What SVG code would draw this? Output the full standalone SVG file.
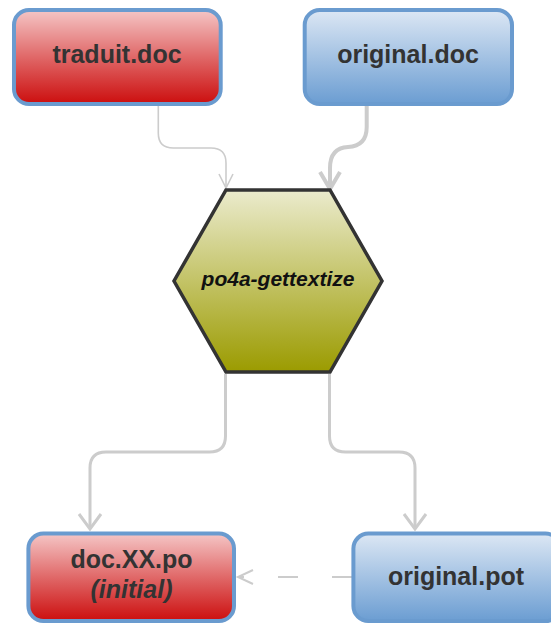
<svg xmlns="http://www.w3.org/2000/svg" width="551" height="624" viewBox="0 0 551 624">
  <defs>
    <linearGradient id="gRed" x1="0" y1="0" x2="0" y2="1">
      <stop offset="0" stop-color="#f5c6c6"/>
      <stop offset="0.5" stop-color="#e06868"/>
      <stop offset="1" stop-color="#cc0e0e"/>
    </linearGradient>
    <linearGradient id="gBlue" x1="0" y1="0" x2="0" y2="1">
      <stop offset="0" stop-color="#dce7f4"/>
      <stop offset="1" stop-color="#6b9dd2"/>
    </linearGradient>
    <linearGradient id="gOlive" x1="0" y1="0" x2="0" y2="1">
      <stop offset="0" stop-color="#ebebcd"/>
      <stop offset="1" stop-color="#9b9b00"/>
    </linearGradient>
    <marker id="headThin" markerUnits="userSpaceOnUse" markerWidth="30" markerHeight="30" viewBox="-20 -15 30 30" refX="0" refY="0" orient="auto" overflow="visible">
      <path d="M-14,-7 L0,0 L-14,7" fill="none" stroke="#cccccc" stroke-width="1.6"/>
    </marker>
    <marker id="headThick" markerUnits="userSpaceOnUse" markerWidth="30" markerHeight="30" viewBox="-20 -15 30 30" refX="0" refY="0" orient="auto" overflow="visible">
      <path d="M-17,-10 L0,0 L-17,10" fill="none" stroke="#cccccc" stroke-width="4"/>
    </marker>
    <marker id="headMid" markerUnits="userSpaceOnUse" markerWidth="30" markerHeight="30" viewBox="-20 -15 30 30" refX="0" refY="0" orient="auto" overflow="visible">
      <path d="M-15,-11 L0,0 L-15,11" fill="none" stroke="#cccccc" stroke-width="3"/>
    </marker>
    <marker id="headDash" markerUnits="userSpaceOnUse" markerWidth="30" markerHeight="30" viewBox="-20 -15 30 30" refX="0" refY="0" orient="auto" overflow="visible">
      <path d="M-15,-7 L0,0 L-15,7" fill="none" stroke="#cccccc" stroke-width="2"/>
    </marker>
  </defs>
  <style>
    .box { stroke: #6a9bcf; stroke-width: 4; }
    .red { fill: url(#gRed); }
    .blue { fill: url(#gBlue); }
    .label { font-family: "Liberation Sans", Arial, sans-serif; font-weight: bold; font-size: 25px; fill: #333333; text-anchor: middle; }
    .it { font-style: italic; }
    .conn { fill: none; stroke: #cccccc; stroke-linecap: butt; }
  </style>

  <!-- connectors -->
  <g id="connectors">
    <path class="conn" d="M158.3,104 V133 Q158.3,148 173.3,148 H211 Q226,148 226,163 V188" stroke-width="1.6" marker-end="url(#headThin)"/>
    <path class="conn" d="M366.7,104 V127 Q366.7,146 348,147 Q330,148 330,168 V189" stroke-width="4" marker-end="url(#headThick)"/>
    <path class="conn" d="M225.5,374 V436 Q225.5,452 209.5,452 H106 Q90,452 90,468 V529" stroke-width="3" marker-end="url(#headMid)"/>
    <path class="conn" d="M329.5,374 V436 Q329.5,452 345.5,452 H399 Q415,452 415,468 V529" stroke-width="3" marker-end="url(#headMid)"/>
    <path class="conn" d="M352,577 H238" stroke-width="2" stroke-dasharray="20 34" marker-end="url(#headDash)"/>
  </g>

  <g id="traduit-doc">
    <rect class="box red" x="14" y="10" width="206.7" height="94" rx="15"/>
    <text class="label" x="117" y="63">traduit.doc</text>
  </g>

  <g id="original-doc">
    <rect class="box blue" x="304.7" y="10" width="207.3" height="94" rx="15"/>
    <text class="label" x="408" y="63">original.doc</text>
  </g>

  <g id="po4a-gettextize">
    <polygon points="226,190 330,190 382,281 330,372 226,372 174,281" fill="url(#gOlive)" stroke="#333333" stroke-width="3.5" stroke-linejoin="miter"/>
    <text x="278" y="286" font-family="Liberation Sans, Arial, sans-serif" font-weight="bold" font-style="italic" font-size="21" fill="#111111" text-anchor="middle">po4a-gettextize</text>
  </g>

  <g id="doc-xx-po">
    <rect class="box red" x="28.4" y="533.6" width="205.6" height="87.5" rx="15"/>
    <text class="label" x="131.5" y="568">doc.XX.po</text>
    <text class="label it" x="131.5" y="598">(initial)</text>
  </g>

  <g id="original-pot">
    <rect class="box blue" x="353.4" y="533.6" width="207" height="87.5" rx="15"/>
    <text class="label" x="456" y="585">original.pot</text>
  </g>
</svg>
